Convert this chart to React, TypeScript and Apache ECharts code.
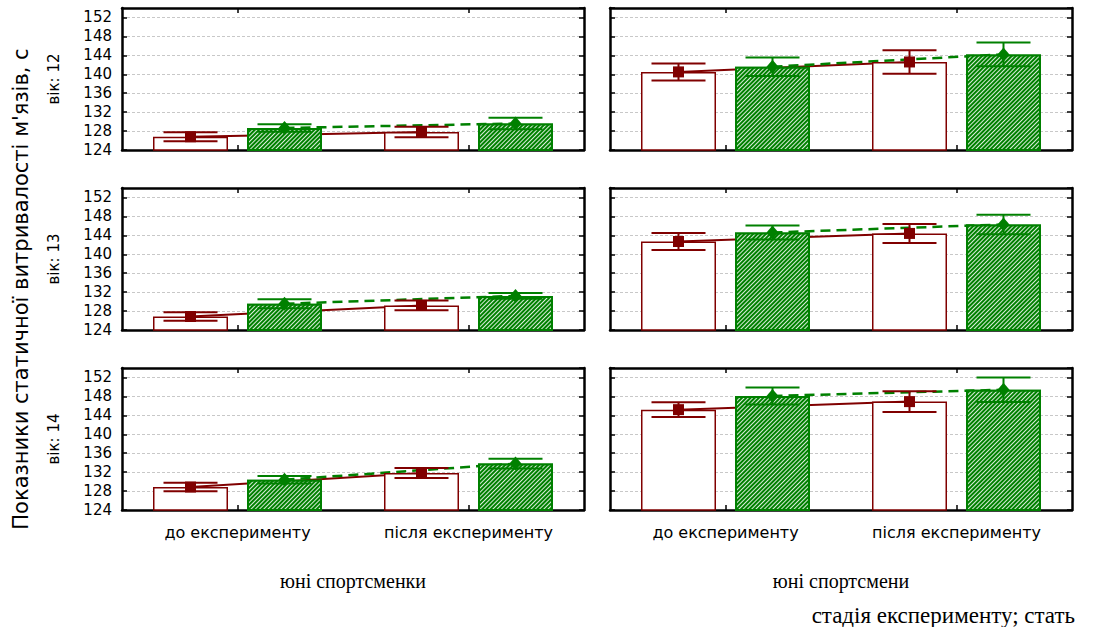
import React, { useEffect, useRef } from 'react';
import * as echarts from 'echarts';

// Categories and labels
const STAGES = ['до експерименту', 'після експерименту'];
const GROUPS = ['юні спортсменки', 'юні спортсмени'];
const AGES = ['вік: 12', 'вік: 13', 'вік: 14'];
const Y_TITLE = "Показники статичної витривалості м'язів, с";
const X_TITLE = 'стадія експерименту; стать';
const Y_MIN = 124;
const Y_MAX = 154;
const Y_STEP = 4;

// Panels run row by row: age 12 (girls, boys), age 13 (girls, boys), age 14 (girls, boys).
// Each entry holds [before, after] for the stage categories.
const WHITE_MEAN = [
  [126.8, 127.8], [140.5, 142.6],
  [126.85, 129.2], [142.7, 144.4],
  [128.85, 131.8], [145.2, 146.9],
];
const WHITE_ERR = [
  [0.93, 1.1], [1.8, 2.5],
  [0.9, 1.05], [1.8, 2.0],
  [0.9, 1.05], [1.55, 2.2],
];
const GREEN_MEAN = [
  [128.65, 129.6], [141.6, 144.2],
  [129.55, 131.2], [144.6, 146.3],
  [130.4, 133.8], [148.1, 149.4],
];
const GREEN_ERR = [
  [0.8, 1.2], [1.95, 2.5],
  [0.95, 0.6], [1.5, 2.05],
  [0.8, 1.05], [1.8, 2.6],
];

// Layout and style
const DARK_RED = '#800000';
const GREEN = '#008000';
const SANS = 'DejaVu Sans';
const SERIF = 'Liberation Serif';
const COL_LEFT = [122, 610];
const ROW_TOP = [8, 188, 368];
const PANEL_W = 462;
const PANEL_H = 142;
const BAR_W = 75;
const BAR_GAP = 19;
const CAP_W = 54;
const OFFSET = (BAR_W + BAR_GAP) / 2;

function segments(means: number[]) {
  const out: number[][] = [];
  for (let i = 0; i < means.length - 1; i++) out.push([i, means[i], means[i + 1]]);
  return out;
}

function lineSeries(p: number, means: number[], dx: number, stroke: string, dashed: boolean) {
  return {
    type: 'custom',
    xAxisIndex: p * 2,
    yAxisIndex: p * 2,
    z: 1,
    silent: true,
    encode: { x: 0, y: [1, 2] },
    data: segments(means),
    renderItem: (_params: any, api: any) => {
      const i = api.value(0);
      const a = api.coord([i, api.value(1)]);
      const b = api.coord([i + 1, api.value(2)]);
      return {
        type: 'line',
        shape: { x1: a[0] + dx, y1: a[1], x2: b[0] + dx, y2: b[1] },
        style: {
          stroke,
          lineWidth: dashed ? 2.5 : 2,
          lineDash: dashed ? [10, 6] : null,
          fill: null,
        },
      };
    },
  };
}

function errorSeries(p: number, means: number[], errs: number[], dx: number, color: string, diamond: boolean) {
  return {
    type: 'custom',
    xAxisIndex: p * 2,
    yAxisIndex: p * 2,
    z: 5,
    silent: true,
    encode: { x: 0, y: 1 },
    data: means.map((m, i) => [i, m, errs[i]]),
    renderItem: (_params: any, api: any) => {
      const i = api.value(0);
      const m = api.value(1);
      const e = api.value(2);
      const c = api.coord([i, m]);
      const hi = api.coord([i, m + e]);
      const lo = api.coord([i, m - e]);
      const cx = c[0] + dx;
      const st = { stroke: color, lineWidth: 2, fill: null };
      const marker = diamond
        ? {
            type: 'polygon',
            shape: { points: [[cx, c[1] - 7], [cx + 6, c[1]], [cx, c[1] + 7], [cx - 6, c[1]]] },
            style: { fill: color },
          }
        : {
            type: 'rect',
            shape: { x: cx - 5.5, y: c[1] - 5.5, width: 11, height: 11 },
            style: { fill: color },
          };
      return {
        type: 'group',
        children: [
          { type: 'line', shape: { x1: cx, y1: hi[1], x2: cx, y2: lo[1] }, style: st },
          { type: 'line', shape: { x1: cx - CAP_W / 2, y1: hi[1], x2: cx + CAP_W / 2, y2: hi[1] }, style: st },
          { type: 'line', shape: { x1: cx - CAP_W / 2, y1: lo[1], x2: cx + CAP_W / 2, y2: lo[1] }, style: st },
          marker,
        ],
      };
    },
  };
}

function buildOption() {
  const grid: any[] = [];
  const xAxis: any[] = [];
  const yAxis: any[] = [];
  const series: any[] = [];
  const axisLine = { show: true, lineStyle: { color: '#000', width: 2.5 } };
  const axisTick = { show: true, inside: true, length: 5, lineStyle: { color: '#000', width: 1.5 } };

  for (let p = 0; p < 6; p++) {
    const row = Math.floor(p / 2);
    const col = p % 2;
    grid.push({ left: COL_LEFT[col], top: ROW_TOP[row], width: PANEL_W, height: PANEL_H, containLabel: false });

    xAxis.push({
      gridIndex: p,
      type: 'category',
      position: 'bottom',
      data: STAGES,
      axisLine,
      axisTick: { ...axisTick, alignWithLabel: true },
      axisLabel: { show: row === 2, fontFamily: SANS, fontSize: 16, color: '#000', margin: 14 },
      splitLine: { show: false },
    });
    xAxis.push({
      gridIndex: p,
      type: 'category',
      position: 'top',
      data: STAGES,
      axisLine,
      axisTick: { ...axisTick, alignWithLabel: true },
      axisLabel: { show: false },
      splitLine: { show: false },
    });
    yAxis.push({
      gridIndex: p,
      type: 'value',
      position: 'left',
      min: Y_MIN,
      max: Y_MAX,
      interval: Y_STEP,
      axisLine,
      axisTick,
      axisLabel: {
        show: col === 0,
        showMaxLabel: false,
        fontFamily: SANS,
        fontSize: 15,
        color: '#000',
        margin: 10,
      },
      splitLine: { show: true, lineStyle: { color: '#c8c8c8', width: 1, type: [3, 2] } },
    });
    yAxis.push({
      gridIndex: p,
      type: 'value',
      position: 'right',
      min: Y_MIN,
      max: Y_MAX,
      interval: Y_STEP,
      axisLine,
      axisTick,
      axisLabel: { show: false },
      splitLine: { show: false },
    });

    series.push(lineSeries(p, WHITE_MEAN[p], -OFFSET, DARK_RED, false));
    series.push(lineSeries(p, GREEN_MEAN[p], OFFSET, GREEN, true));
    series.push({
      type: 'bar',
      xAxisIndex: p * 2,
      yAxisIndex: p * 2,
      z: 2,
      silent: true,
      barWidth: BAR_W,
      barGap: `${(BAR_GAP / BAR_W) * 100}%`,
      data: WHITE_MEAN[p],
      itemStyle: { color: '#ffffff', borderColor: DARK_RED, borderWidth: 1.5 },
    });
    series.push({
      type: 'bar',
      xAxisIndex: p * 2,
      yAxisIndex: p * 2,
      z: 2,
      silent: true,
      barWidth: BAR_W,
      barGap: `${(BAR_GAP / BAR_W) * 100}%`,
      data: GREEN_MEAN[p],
      itemStyle: {
        color: GREEN,
        borderColor: GREEN,
        borderWidth: 2,
        decal: {
          symbol: 'rect',
          symbolSize: 1,
          dashArrayX: [1, 0],
          dashArrayY: [1, 1.6],
          rotation: -Math.PI / 4,
          color: 'rgba(255,255,255,0.85)',
        },
      },
    });
    series.push(errorSeries(p, WHITE_MEAN[p], WHITE_ERR[p], -OFFSET, DARK_RED, false));
    series.push(errorSeries(p, GREEN_MEAN[p], GREEN_ERR[p], OFFSET, GREEN, true));
  }

  const graphic: any[] = [];
  AGES.forEach((label, r) => {
    graphic.push({
      type: 'text',
      x: 54,
      y: ROW_TOP[r] + PANEL_H / 2,
      rotation: Math.PI / 2,
      style: { text: label, fontFamily: SANS, fontSize: 15, fill: '#000', align: 'center', verticalAlign: 'middle' },
    });
  });
  graphic.push({
    type: 'text',
    x: 21,
    y: 289,
    rotation: Math.PI / 2,
    style: { text: Y_TITLE, fontFamily: SANS, fontSize: 21, fill: '#000', align: 'center', verticalAlign: 'middle' },
  });
  GROUPS.forEach((label, c) => {
    graphic.push({
      type: 'text',
      x: COL_LEFT[c] + PANEL_W / 2,
      y: 581,
      style: { text: label, fontFamily: SERIF, fontSize: 20, fill: '#000', align: 'center', verticalAlign: 'middle' },
    });
  });
  graphic.push({
    type: 'text',
    x: 1075,
    y: 615,
    style: { text: X_TITLE, fontFamily: SERIF, fontSize: 23, fill: '#000', align: 'right', verticalAlign: 'middle' },
  });

  return {
    animation: false,
    backgroundColor: '#ffffff',
    grid,
    xAxis,
    yAxis,
    series,
    graphic,
  };
}

export default function App() {
  const ref = useRef<HTMLDivElement>(null);
  useEffect(() => {
    if (!ref.current) return;
    const chart = echarts.init(ref.current, null, { renderer: 'svg' });
    chart.setOption(buildOption() as any);
    return () => chart.dispose();
  }, []);
  return (
    <div
      ref={ref}
      style={{ position: 'fixed', left: 0, top: 0, width: 1107, height: 627, background: '#fff' }}
    />
  );
}
